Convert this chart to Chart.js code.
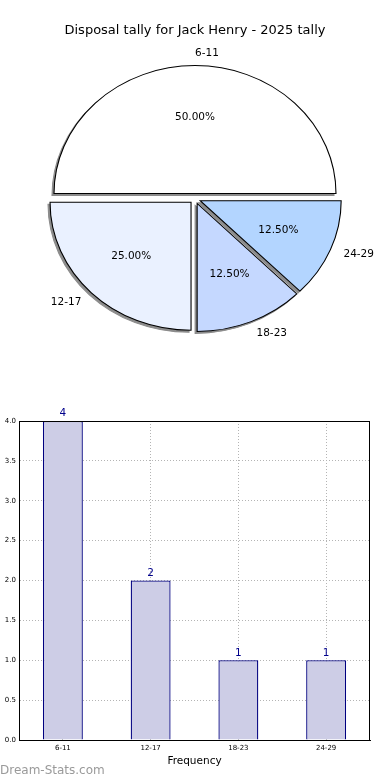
<!DOCTYPE html>
<html>
<head>
<meta charset="utf-8">
<script src="https://cdn.jsdelivr.net/npm/chart.js@4.4.1/dist/chart.umd.min.js"></script>
<style>
  html, body { margin: 0; padding: 0; background: #fff; }
  body { width: 390px; height: 780px; position: relative; overflow: hidden; font-family: "DejaVu Sans", sans-serif; }
  #title { position: absolute; left: 0; top: 22px; width: 390px; text-align: center; font-size: 13px; line-height: 16px; color: #000; }
  #pieWrap { position: absolute; left: 0; top: 0; width: 390px; height: 360px; }
  #barWrap { position: absolute; left: 0; top: 395px; width: 390px; height: 385px; }
  #mark { position: absolute; left: 0; top: 762px; font-size: 12px; line-height: 16px; color: #9a9a9a; }
</style>
</head>
<body>
<div id="pieWrap"><canvas id="pieChart"></canvas></div>
<div id="barWrap"><canvas id="barChart"></canvas></div>
<div id="title">Disposal tally for Jack Henry - 2025 tally</div>
<div id="mark">Dream-Stats.com</div>
<script>
// Data
const categories = ['6-11', '12-17', '18-23', '24-29'];
const tallies = [4, 2, 1, 1];
const sliceColors = ['#ffffff', '#eaf1ff', '#c5d8ff', '#b3d5ff'];
const yTicks = [0, 0.5, 1, 1.5, 2, 2.5, 3, 3.5, 4];

// pie look (matplotlib style: squashed, exploded, with shadow)
const SQUASH = 128 / 141;
const EXPLODE = 5.6;
const SHADOW_DX = -2;
const SHADOW_DY = 2;

const total = tallies.reduce((a, b) => a + b, 0);

// Chart.js goes clockwise, matplotlib counter-clockwise -> feed it reversed
const pieLabels = categories.slice().reverse();
const pieValues = tallies.slice().reverse();
const pieColors = sliceColors.slice().reverse();

const pieShape = {
  id: 'pieShape',
  beforeDatasetsDraw(chart) {
    const ctx = chart.ctx;
    const arcs = chart.getDatasetMeta(0).data;
    const drawPass = (shadow) => {
      arcs.forEach(arc => {
        const mid = (arc.startAngle + arc.endAngle) / 2;
        ctx.save();
        if (shadow) ctx.translate(SHADOW_DX, SHADOW_DY);
        ctx.translate(arc.x, arc.y);
        ctx.scale(1, SQUASH);
        ctx.translate(-arc.x, -arc.y);
        ctx.translate(Math.cos(mid) * EXPLODE, Math.sin(mid) * EXPLODE);
        const opts = arc.options;
        if (shadow) {
          arc.options = Object.assign({}, opts, { backgroundColor: '#8c8c8c', borderColor: '#8c8c8c' });
        }
        arc.draw(ctx);
        arc.options = opts;
        ctx.restore();
      });
    };
    drawPass(true);
    drawPass(false);
    return false;
  },
  afterDraw(chart) {
    const ctx = chart.ctx;
    const arcs = chart.getDatasetMeta(0).data;
    ctx.save();
    ctx.font = '10.5px "DejaVu Sans"';
    ctx.fillStyle = '#000';
    ctx.textBaseline = 'middle';
    arcs.forEach((arc, i) => {
      const mid = (arc.startAngle + arc.endAngle) / 2;
      const c = Math.cos(mid), s = Math.sin(mid);
      const r = arc.outerRadius;
      // category label
      const lx = arc.x + c * (EXPLODE + 1.1 * r);
      const ly = arc.y + s * (EXPLODE + 1.1 * r) * SQUASH;
      ctx.textAlign = c > -1e-6 ? 'left' : 'right';
      ctx.fillText(pieLabels[i], lx, ly);
      // percentage
      const px = arc.x + c * (EXPLODE + 0.6 * r);
      const py = arc.y + s * (EXPLODE + 0.6 * r) * SQUASH;
      ctx.textAlign = 'center';
      ctx.fillText((pieValues[i] / total * 100).toFixed(2) + '%', px, py);
    });
    ctx.restore();
  }
};

new Chart(document.getElementById('pieChart'), {
  type: 'pie',
  data: {
    labels: pieLabels,
    datasets: [{
      data: pieValues,
      backgroundColor: pieColors,
      borderColor: '#000',
      borderWidth: 1.1,
      borderJoinStyle: 'miter'
    }]
  },
  options: {
    responsive: true,
    maintainAspectRatio: false,
    animation: false,
    events: [],
    rotation: 90,
    radius: 141,
    layout: { padding: { top: 37.4 } },
    plugins: {
      legend: { display: false },
      tooltip: { enabled: false }
    }
  },
  plugins: [pieShape]
});

// Bar chart
const frameBox = {
  id: 'frameBox',
  afterDraw(chart) {
    const { ctx, chartArea } = chart;
    ctx.save();
    ctx.strokeStyle = '#000';
    ctx.lineWidth = 1;
    ctx.strokeRect(chartArea.left + 0.5, chartArea.top + 0.5,
      chartArea.right - chartArea.left - 1, chartArea.bottom - chartArea.top);
    ctx.restore();
  }
};

const barValues = {
  id: 'barValues',
  afterDraw(chart) {
    const ctx = chart.ctx;
    const bars = chart.getDatasetMeta(0).data;
    ctx.save();
    ctx.font = '10.5px "DejaVu Sans"';
    ctx.fillStyle = '#00008b';
    ctx.textAlign = 'center';
    ctx.textBaseline = 'bottom';
    bars.forEach((bar, i) => {
      ctx.fillText(String(tallies[i]), bar.x, bar.y - 2);
    });
    ctx.restore();
  }
};

new Chart(document.getElementById('barChart'), {
  type: 'bar',
  data: {
    labels: categories,
    datasets: [{
      data: tallies,
      backgroundColor: '#cdcde6',
      borderColor: '#000080',
      borderWidth: 1.3,
      barPercentage: 0.455,
      categoryPercentage: 1
    }]
  },
  options: {
    responsive: true,
    maintainAspectRatio: false,
    animation: false,
    events: [],
    layout: { padding: { top: 26, right: 20, left: 0, bottom: 0 } },
    plugins: {
      legend: { display: false },
      tooltip: { enabled: false }
    },
    scales: {
      x: {
        afterFit: s => { s.height = 40; },
        grid: { offset: false, color: '#b4b4b4', drawTicks: false },
        border: { color: '#000', dash: [1, 2] },
        ticks: { color: '#000', padding: 4, font: { family: 'DejaVu Sans', size: 7 } },
        title: {
          display: true,
          text: 'Frequency',
          color: '#000',
          font: { family: 'DejaVu Sans', size: 10.5 },
          padding: { top: 0, bottom: 12 }
        }
      },
      y: {
        min: 0,
        max: 4,
        afterFit: s => { s.width = 19; },
        afterBuildTicks: s => { s.ticks = yTicks.map(v => ({ value: v })); },
        grid: { color: '#b4b4b4', drawTicks: false },
        border: { color: '#000', dash: [1, 2] },
        ticks: {
          color: '#000',
          padding: 3,
          font: { family: 'DejaVu Sans', size: 7 },
          callback: v => Number(v).toFixed(1)
        }
      }
    }
  },
  plugins: [frameBox, barValues]
});
</script>
</body>
</html>
